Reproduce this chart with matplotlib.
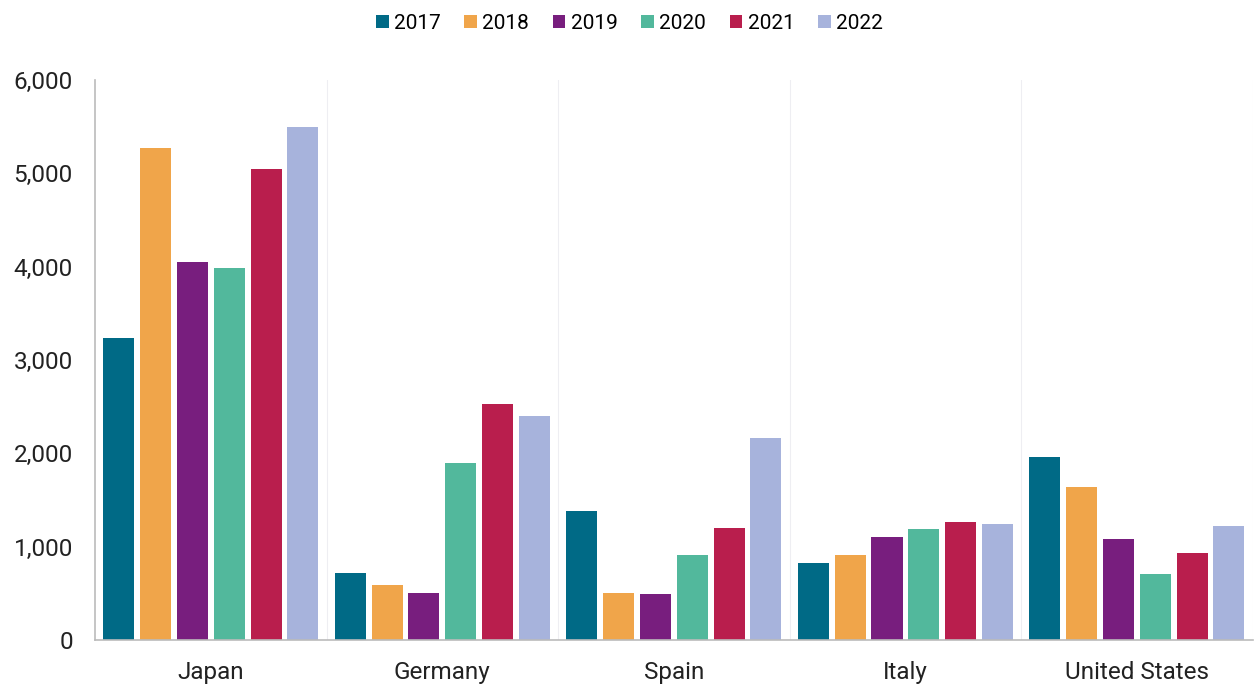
import matplotlib
matplotlib.use('Agg')
import matplotlib.pyplot as plt
import numpy as np

plt.rcParams['font.family'] = ['Roboto', 'DejaVu Sans']

countries = ['Japan', 'Germany', 'Spain', 'Italy', 'United States']
years = ['2017', '2018', '2019', '2020', '2021', '2022']
v2017 = [3230, 720, 1380, 825, 1960]
v2018 = [5270, 590, 500, 910, 1640]
v2019 = [4050, 500, 490, 1100, 1080]
v2020 = [3990, 1900, 910, 1190, 710]
v2021 = [5050, 2530, 1200, 1265, 930]
v2022 = [5500, 2400, 2165, 1240, 1220]
colors = ['#006A86', '#F0A54A', '#781E7E', '#52B89C', '#B91E4D', '#A7B3DC']

series = [v2017, v2018, v2019, v2020, v2021, v2022]

fig = plt.figure(figsize=(12.59, 6.88), dpi=100)
ax = fig.add_axes([0.0755, 0.0698, 0.9195, 0.814])

x = np.arange(len(countries))
slot = 0.159
width = 0.134
for i, vals in enumerate(series):
    ax.bar(x + (i - 2.5) * slot, vals, width, color=colors[i], label=years[i], zorder=2)

ax.set_xlim(-0.5, len(countries) - 0.5)
ax.set_ylim(0, 6000)
ax.set_yticks(range(0, 6001, 1000))
ax.set_yticklabels([f"{v:,}" for v in range(0, 6001, 1000)])
ax.set_xticks(x)
ax.set_xticklabels(countries)
ax.tick_params(axis='both', length=0, colors='#222222')
ax.tick_params(axis='y', pad=16, labelsize=17.5)
ax.tick_params(axis='x', pad=15, labelsize=17.5)

# linee verticali tenui tra le categorie
ax.set_xticks(np.arange(0.5, len(countries), 1), minor=True)
ax.tick_params(axis='x', which='minor', length=0)
ax.grid(axis='x', which='minor', color='#EEEEF2', linewidth=0.8)
ax.grid(axis='x', which='major', visible=False)

for spine in ['top', 'right']:
    ax.spines[spine].set_visible(False)
ax.spines['left'].set_color('#BBBBBB')
ax.spines['bottom'].set_color('#BBBBBB')
ax.spines['left'].set_linewidth(1.2)
ax.spines['bottom'].set_linewidth(1.2)

fig.legend(loc='upper center', bbox_to_anchor=(0.5, 1.007), ncol=6, frameon=False,
           fontsize=15, handlelength=0.6, handleheight=0.6, handletextpad=0.25,
           columnspacing=1.15)

plt.savefig('out.png', dpi=100)
plt.close()
